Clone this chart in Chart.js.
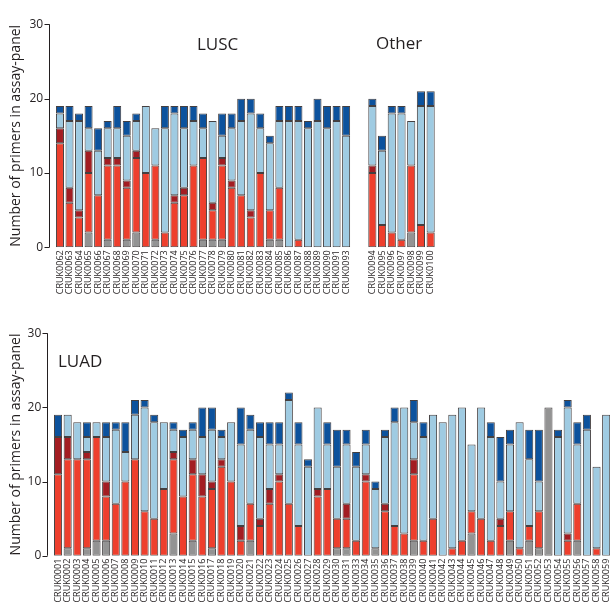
<!DOCTYPE html>
<html>
<head>
<meta charset="utf-8">
<title>Primers in assay-panel</title>
<script src="https://cdn.jsdelivr.net/npm/chart.js@4.4.1/dist/chart.umd.min.js"></script>
<style>
  html, body { margin: 0; padding: 0; overflow: hidden; background: #fff; }
  body { position: relative; width: 610px; height: 609px; font-family: 'Open Sans', sans-serif; }
  canvas { position: absolute; }
  .panel { position: absolute; font-size: 17px; line-height: 1; color: #231f20; }
</style>
</head>
<body>
<canvas id="chartLusc" width="360" height="310" style="left:0;top:0"></canvas>
<canvas id="chartOther" width="100" height="310" style="left:360px;top:0"></canvas>
<canvas id="chartLuad" width="620" height="299" style="left:0;top:310px"></canvas>
<div class="panel" style="left:197px;top:35px">LUSC</div>
<div class="panel" style="left:376px;top:34px">Other</div>
<div class="panel" style="left:58px;top:352px">LUAD</div>
<script>
// tick labels
var yTicks = [0, 10, 20, 30];
var yTitle = 'Number of primers in assay-panel';

var luscLabels = ['CRUK0062', 'CRUK0063', 'CRUK0064', 'CRUK0065', 'CRUK0066', 'CRUK0067', 'CRUK0068', 'CRUK0069',
    'CRUK0070', 'CRUK0071', 'CRUK0072', 'CRUK0073', 'CRUK0074', 'CRUK0075', 'CRUK0076', 'CRUK0077', 'CRUK0078', 'CRUK0079',
    'CRUK0080', 'CRUK0081', 'CRUK0082', 'CRUK0083', 'CRUK0084', 'CRUK0085', 'CRUK0086', 'CRUK0087', 'CRUK0088', 'CRUK0089',
    'CRUK0090', 'CRUK0091', 'CRUK0093'];
var luscGray      = [0, 0, 0, 2, 0, 1, 0, 1, 2, 0, 1, 0, 0, 0, 0, 1, 1, 1, 0, 0, 0, 0, 1, 1, 0, 0, 0, 0, 0, 0, 0];
var luscRed       = [14, 6, 4, 8, 7, 10, 11, 7, 10, 10, 10, 2, 6, 7, 11, 11, 4, 10, 8, 7, 4, 10, 4, 7, 0, 1, 0, 0, 0, 0, 0];
var luscDarkRed   = [2, 2, 1, 3, 0, 1, 1, 1, 1, 0, 0, 0, 1, 1, 0, 0, 1, 1, 1, 0, 1, 0, 0, 0, 0, 0, 0, 0, 0, 0, 0];
var luscLightBlue = [2, 9, 12, 3, 6, 4, 4, 6, 4, 9, 5, 14, 11, 8, 6, 4, 11, 3, 7, 10, 13, 6, 9, 9, 17, 16, 16, 17, 16, 17, 15];
var luscDarkBlue  = [1, 2, 1, 3, 3, 1, 3, 2, 1, 0, 0, 3, 1, 3, 2, 2, 0, 3, 2, 3, 2, 2, 1, 2, 2, 2, 1, 3, 3, 2, 4];

var otherLabels = ['CRUK0094', 'CRUK0095', 'CRUK0096', 'CRUK0097', 'CRUK0098', 'CRUK0099', 'CRUK0100'];
var otherGray      = [0, 0, 0, 0, 2, 0, 0];
var otherRed       = [10, 3, 2, 1, 9, 3, 2];
var otherDarkRed   = [1, 0, 0, 0, 0, 0, 0];
var otherLightBlue = [8, 10, 16, 17, 6, 16, 17];
var otherDarkBlue  = [1, 2, 1, 1, 0, 2, 2];

var luadLabels = ['CRUK0001', 'CRUK0002', 'CRUK0003', 'CRUK0004', 'CRUK0005', 'CRUK0006', 'CRUK0007', 'CRUK0008', 'CRUK0009',
    'CRUK0010', 'CRUK0011', 'CRUK0012', 'CRUK0013', 'CRUK0014', 'CRUK0015', 'CRUK0016', 'CRUK0017', 'CRUK0018', 'CRUK0019',
    'CRUK0020', 'CRUK0021', 'CRUK0022', 'CRUK0023', 'CRUK0024', 'CRUK0025', 'CRUK0026', 'CRUK0027', 'CRUK0028', 'CRUK0029',
    'CRUK0030', 'CRUK0031', 'CRUK0033', 'CRUK0034', 'CRUK0035', 'CRUK0036', 'CRUK0037', 'CRUK0038', 'CRUK0039',
    'CRUK0040', 'CRUK0041', 'CRUK0042', 'CRUK0043', 'CRUK0044', 'CRUK0045', 'CRUK0046', 'CRUK0047', 'CRUK0048', 'CRUK0049',
    'CRUK0050', 'CRUK0051', 'CRUK0052', 'CRUK0053', 'CRUK0054', 'CRUK0055', 'CRUK0056', 'CRUK0057', 'CRUK0058', 'CRUK0059'];
var luadGray      = [0, 1, 0, 1, 2, 2, 0, 0, 0, 0, 0, 0, 3, 0, 2, 0, 1, 0, 0, 0, 2, 0, 0, 0, 0, 0, 0, 0, 0, 1,
    1, 0, 0, 1, 0, 0, 0, 2, 0, 0, 0, 0, 0, 3, 0, 0, 0, 2, 0, 2, 1, 20, 0, 0, 2, 0, 0, 0];
var luadRed       = [11, 12, 13, 12, 14, 6, 7, 10, 13, 6, 5, 9, 10, 8, 9, 8, 8, 12, 10, 2, 5, 4, 7, 10, 7, 4, 0, 8, 9, 4,
    4, 2, 10, 0, 6, 4, 3, 9, 2, 5, 0, 1, 2, 3, 5, 2, 4, 4, 1, 2, 5, 0, 0, 2, 5, 0, 1, 0];
var luadDarkRed   = [5, 3, 0, 1, 0, 2, 0, 0, 0, 0, 0, 0, 1, 0, 2, 3, 1, 1, 0, 2, 0, 1, 2, 1, 0, 0, 0, 1, 0, 0,
    2, 0, 1, 0, 1, 0, 0, 2, 0, 0, 0, 0, 0, 0, 0, 0, 1, 0, 0, 0, 0, 0, 0, 1, 0, 0, 0, 0];
var luadLightBlue = [0, 3, 5, 2, 2, 6, 10, 4, 6, 14, 13, 9, 3, 8, 4, 5, 7, 3, 8, 11, 10, 11, 6, 4, 14, 11, 12, 11, 6, 7,
    8, 10, 4, 8, 9, 14, 17, 5, 14, 14, 18, 18, 18, 9, 15, 14, 5, 9, 17, 9, 4, 0, 16, 17, 8, 17, 11, 19];
var luadDarkBlue  = [3, 0, 0, 2, 0, 2, 1, 4, 2, 1, 1, 0, 1, 1, 1, 4, 3, 1, 0, 5, 2, 2, 3, 3, 1, 3, 1, 0, 3, 5,
    2, 2, 2, 1, 1, 2, 0, 3, 2, 0, 0, 0, 0, 0, 0, 2, 6, 2, 0, 4, 7, 0, 1, 1, 3, 2, 0, 0];

var seriesNames = ['Gray', 'Red', 'Dark red', 'Light blue', 'Dark blue'];
var seriesColors = ['#939393', '#ee3f2d', '#a31d22', '#9fcbe2', '#0c529d'];
var edgeColor = 'rgba(35, 31, 32, 0.85)';
var textColor = '#231f20';

/////////////////////////////////////////////////////////////////
// y axis line drawn a few pixels left of the first bar
var axisLinePlugin = {
    id: 'axisLine',
    afterDraw: function (chart) {
        var opts = chart.options.plugins.axisLine;
        if (!opts || !opts.display) return;
        var ctx = chart.ctx;
        var yScale = chart.scales.y;
        var x0 = Math.round(chart.chartArea.left - opts.gap) + 0.5;
        ctx.save();
        ctx.strokeStyle = textColor;
        ctx.lineWidth = 1;
        ctx.beginPath();
        ctx.moveTo(x0, yScale.getPixelForValue(yScale.max));
        ctx.lineTo(x0, yScale.getPixelForValue(yScale.min));
        yScale.ticks.forEach(function (t) {
            var py = Math.round(yScale.getPixelForValue(t.value)) + 0.5;
            ctx.moveTo(x0 - 5, py);
            ctx.lineTo(x0, py);
        });
        ctx.stroke();
        ctx.restore();
    }
};
Chart.register(axisLinePlugin);

function buildDatasets(parts) {
    return parts.map(function (values, i) {
        return {
            label: seriesNames[i],
            data: values,
            backgroundColor: seriesColors[i],
            borderColor: edgeColor,
            borderWidth: 1,
            borderSkipped: false,
            barPercentage: 0.84,
            categoryPercentage: 1
        };
    });
}

function makeChart(id, labels, parts, box) {
    var config = {
        type: 'bar',
        data: { labels: labels, datasets: buildDatasets(parts) },
        options: {
            responsive: false,
            animation: false,
            devicePixelRatio: 1,
            layout: { padding: { left: box.padLeft, right: box.padRight, top: box.padTop, bottom: 0 } },
            plugins: {
                legend: { display: false },
                tooltip: { enabled: false },
                axisLine: { display: box.showAxis, gap: box.gap }
            },
            scales: {
                x: {
                    stacked: true,
                    grid: { display: false, drawTicks: false },
                    border: { display: false },
                    ticks: {
                        autoSkip: false, minRotation: 90, maxRotation: 90, padding: 3,
                        color: textColor, font: { family: 'Open Sans', size: 9 }
                    },
                    afterFit: function (s) { s.height = box.xHeight; }
                },
                y: {
                    display: box.showAxis,
                    stacked: true,
                    min: 0,
                    max: 30,
                    grid: { display: false, drawTicks: false },
                    border: { display: false },
                    afterBuildTicks: function (s) {
                        s.ticks = yTicks.map(function (v) { return { value: v }; });
                    },
                    ticks: { padding: 12, color: textColor, font: { family: 'Open Sans', size: 12 } },
                    title: {
                        display: true, text: yTitle, color: textColor,
                        font: { family: 'Open Sans', size: 14 },
                        padding: { top: 7.6, bottom: 0 }
                    },
                    afterFit: function (s) { s.width = box.yWidth; }
                }
            }
        }
    };
    return new Chart(document.getElementById(id), config);
}

makeChart('chartLusc', luscLabels,
    [luscGray, luscRed, luscDarkRed, luscLightBlue, luscDarkBlue],
    { padLeft: 0, padRight: 5, padTop: 24.3, xHeight: 62.7, yWidth: 55.2, showAxis: true, gap: 6 });

makeChart('chartOther', otherLabels,
    [otherGray, otherRed, otherDarkRed, otherLightBlue, otherDarkBlue],
    { padLeft: 7.5, padRight: 24.5, padTop: 24.3, xHeight: 62.7, yWidth: 0, showAxis: false, gap: 0 });

makeChart('chartLuad', luadLabels,
    [luadGray, luadRed, luadDarkRed, luadLightBlue, luadDarkBlue],
    { padLeft: 0, padRight: 5.7, padTop: 23.3, xHeight: 53.3, yWidth: 53.25, showAxis: true, gap: 6.5 });
</script>
</body>
</html>
